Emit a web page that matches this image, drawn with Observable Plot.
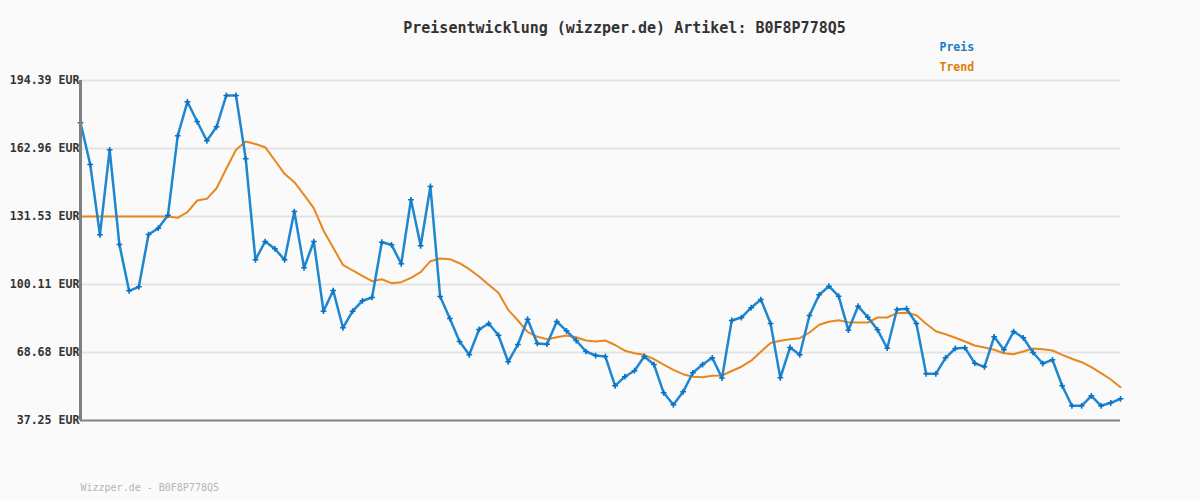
<!DOCTYPE html>
<html>
<head>
<meta charset="utf-8">
<script src="https://cdn.jsdelivr.net/npm/d3@7"></script>
<script src="https://cdn.jsdelivr.net/npm/@observablehq/plot@0.6"></script>
<style>
  html, body { margin: 0; padding: 0; background: #fafafa; }
  #chart svg { display: block; }
</style>
</head>
<body>
<div id="chart"></div>
<script>
const titleText = "Preisentwicklung (wizzper.de) Artikel: B0F8P778Q5";
const footerText = "Wizzper.de - B0F8P778Q5";
const seriesNames = ["Preis", "Trend"];
const yTicks = [37.25, 68.68, 100.11, 131.53, 162.96, 194.39];

const price = [
  174.84, 155.57, 123.08, 162.36, 118.59, 97.19, 99.04, 123.21, 126.13, 132.13,
  168.83, 184.55, 175.44, 166.52, 172.99, 187.46, 187.46, 158.20, 111.52, 119.98,
  116.61, 111.52, 133.84, 107.82, 119.98, 87.76, 97.33, 80.09, 87.76, 92.57,
  94.10, 119.65, 118.45, 109.67, 139.25, 117.99, 145.40, 94.56, 84.39, 73.76,
  67.61, 79.31, 82.08, 76.67, 64.38, 72.37, 84.07, 72.84, 72.51, 83.00,
  78.71, 74.22, 69.14, 67.29, 66.83, 53.29, 57.49, 60.27, 66.83, 63.13,
  50.05, 44.50, 50.51, 59.30, 63.13, 66.23, 56.89, 83.47, 84.85, 89.38,
  93.17, 82.08, 56.98, 70.99, 67.61, 85.78, 95.34, 99.32, 94.70, 78.98,
  90.08, 84.99, 79.17, 70.66, 88.55, 88.92, 82.08, 58.83, 58.83, 66.23,
  70.53, 70.85, 63.73, 62.07, 75.93, 69.92, 78.38, 75.47, 68.68, 63.59,
  65.30, 53.29, 44.04, 44.04, 48.66, 44.04, 45.43, 47.28
];

const trend = [
  131.53, 131.53, 131.53, 131.53, 131.53, 131.53, 131.53, 131.53, 131.53, 131.53,
  130.93, 133.52, 138.93, 139.71, 144.61, 153.58, 162.36, 166.20, 165.04, 163.56,
  157.42, 151.27, 147.39, 141.56, 135.37, 125.06, 117.07, 109.21, 106.58, 104.13,
  101.63, 102.55, 100.71, 101.17, 103.20, 105.79, 110.87, 112.12, 111.80, 109.95,
  107.18, 103.80, 99.97, 96.27, 88.41, 83.47, 78.24, 75.93, 74.82, 75.75,
  76.53, 75.75, 74.22, 73.76, 74.22, 72.14, 69.51, 68.35, 67.61, 65.58,
  63.13, 60.68, 58.65, 57.45, 57.26, 57.91, 58.05, 60.13, 62.11, 64.89,
  69.05, 73.07, 74.08, 74.82, 75.29, 77.92, 81.48, 82.87, 83.61, 82.68,
  82.54, 82.54, 84.85, 84.85, 86.84, 87.03, 85.92, 81.94, 78.52, 77.14,
  75.47, 73.76, 71.91, 70.99, 69.92, 68.35, 67.89, 69.14, 70.53, 70.20,
  69.60, 67.61, 65.77, 64.19, 61.88, 59.11, 56.20, 52.64
];

const blue = "#1f86d0";
const blueDark = "#0a72c2";
const orange = "#e8871e";

const idx = price.map((_, i) => i);
const priceData = idx.map(i => ({i, v: price[i]}));
const trendData = idx.map(i => ({i, v: trend[i]}));
const yMin = yTicks[0], yMax = yTicks[yTicks.length - 1];

const chart = Plot.plot({
  width: 1200,
  height: 500,
  marginLeft: 80,
  marginRight: 80,
  marginTop: 80,
  marginBottom: 80,
  style: {background: "#fafafa", fontFamily: "'DejaVu Sans Mono', monospace", overflow: "visible"},
  x: {domain: [0, idx.length - 1], axis: null},
  y: {domain: [yMin, yMax], axis: null},
  marks: [
    Plot.ruleY(yTicks.slice(1), {stroke: "#e3e3e3", strokeWidth: 2}),
    Plot.axisY(yTicks, {
      label: null,
      tickSize: 4, tickPadding: -3, stroke: "#e3e3e3", strokeWidth: 2,
      fill: "#333", fontSize: 11.6, fontWeight: "bold",
      tickFormat: d => d.toFixed(2) + " EUR"
    }),
    Plot.line(trendData, {x: "i", y: "v", stroke: orange, strokeWidth: 2}),
    Plot.line(priceData, {x: "i", y: "v", stroke: blue, strokeWidth: 2.5}),
    Plot.dot(priceData, {x: "i", y: "v", symbol: "plus", r: 2, stroke: blueDark, strokeWidth: 1.6}),
    Plot.ruleY([yMin], {stroke: "#808080", strokeWidth: 2}),
    Plot.ruleX([0], {stroke: "#808080", strokeWidth: 3}),
    Plot.text([titleText], {frameAnchor: "top", dy: -52, dx: 24, fontSize: 15, fontWeight: "bold", fill: "#333", lineAnchor: "middle"}),
    Plot.text([seriesNames[0]], {frameAnchor: "top-right", textAnchor: "start", dx: -181, dy: -33, fontSize: 11.5, fontWeight: "bold", fill: "#1a7cc6", lineAnchor: "middle"}),
    Plot.text([seriesNames[1]], {frameAnchor: "top-right", textAnchor: "start", dx: -181, dy: -13, fontSize: 11.5, fontWeight: "bold", fill: "#e07a0a", lineAnchor: "middle"}),
    Plot.text([footerText], {frameAnchor: "bottom-left", textAnchor: "start", dy: 67, fontSize: 10, fill: "#b5b5b5", lineAnchor: "middle"})
  ]
});
document.getElementById("chart").appendChild(chart);
</script>
</body>
</html>
